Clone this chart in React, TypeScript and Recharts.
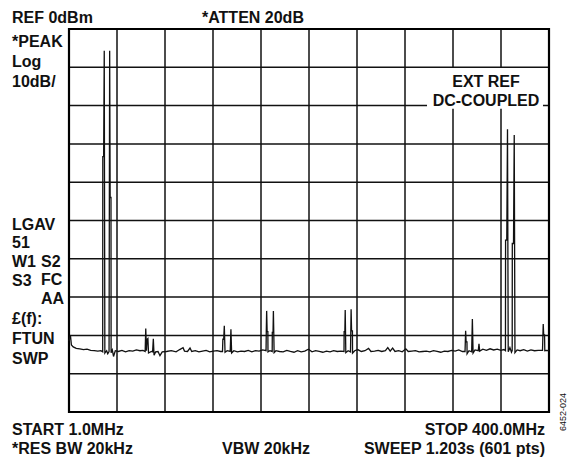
import React from "react";
import {
  LineChart,
  Line,
  XAxis,
  YAxis,
  CartesianGrid,
  ReferenceArea,
} from "recharts";

// sweep: [frequency MHz, level dBm]
const trace: [number, number][] = [
  [1.0, -81.5], [2.2, -80.0], [3.0, -82.5], [4.5, -83.0], [7, -83.4], [10, -83.5],
  [13, -83.7], [16, -83.6], [19, -83.9], [22, -84.0], [25, -84.1], [27.5, -84.0],
  [29.0, -84.3], [29.1, -33.3], [29.8, -33.3], [30.3, -5.7], [30.8, -84.6], [32.3, -84.0],
  [33.2, -84.8], [34.3, -84.2], [34.8, -5.7], [35.2, -44.0], [35.9, -44.0], [36.0, -84.5],
  [37.0, -83.8], [38.0, -85.5], [39.5, -84.0], [42, -84.2], [45, -83.9], [48, -84.3],
  [51, -84.0], [54, -84.1], [57, -83.8], [60, -84.0], [62.5, -83.9], [64.3, -84.2],
  [64.8, -78.2], [65.4, -84.0], [65.9, -81.0], [66.6, -80.8], [67.1, -84.6], [69.5, -84.2],
  [70.5, -84.3], [71.1, -80.9], [71.7, -85.2], [73, -84.3], [75, -84.2], [76.6, -85.3],
  [78.5, -84.3], [82, -84.2], [86, -84.0], [90, -84.3], [93, -83.7], [95.8, -83.2],
  [97, -84.1], [99.5, -84.2], [101.6, -83.3], [103, -84.2], [106, -84.0], [109, -84.3],
  [112, -84.1], [115, -83.9], [118, -84.3], [121, -84.1], [124, -84.0], [127, -84.2],
  [128.6, -84.2], [128.9, -81.0], [129.6, -81.0], [130.1, -77.5], [130.7, -84.4], [132.5, -84.0],
  [135.0, -84.2], [135.6, -78.4], [136.2, -84.6], [138, -84.0], [141, -84.3], [144, -84.1],
  [147, -84.2], [150, -83.9], [153, -84.3], [156, -84.0], [159, -84.1], [162, -83.8],
  [164.8, -84.0], [165.0, -79.0], [165.3, -73.6], [165.7, -79.0], [166.3, -79.0], [166.4, -84.3],
  [168, -84.0], [169.9, -84.2], [170.0, -79.2], [170.6, -79.2], [170.9, -73.6], [171.5, -84.5],
  [173, -84.0], [176, -84.2], [179, -84.3], [182, -83.9], [185, -84.2], [188, -84.4],
  [191, -84.0], [194, -84.3], [197, -84.1], [200, -83.6], [203, -84.3], [206, -84.0],
  [209, -84.2], [212, -84.4], [215, -84.1], [218, -84.3], [221, -84.0], [224, -84.2],
  [227, -84.1], [229.6, -84.2], [229.7, -79.0], [230.3, -79.0], [230.6, -73.4], [231.1, -84.5],
  [233, -84.0], [235.0, -84.3], [235.5, -73.2], [235.9, -78.8], [236.6, -78.8], [236.7, -84.6],
  [238.5, -84.0], [241, -83.7], [244, -84.2], [247, -84.0], [250, -83.4], [252, -84.2],
  [255, -84.1], [258, -83.9], [261, -84.2], [264, -84.0], [266, -83.2], [268, -84.1],
  [270, -83.3], [272, -84.2], [275, -84.0], [278, -84.3], [281, -83.5], [283, -84.2],
  [286, -84.1], [289, -84.0], [292, -84.3], [295, -84.2], [298, -84.1], [301, -84.3],
  [304, -84.0], [307, -84.2], [310, -84.4], [313, -84.1], [316, -84.2], [319, -83.9],
  [322, -84.1], [325, -83.8], [328, -84.2], [330.2, -84.2], [330.7, -78.8], [331.1, -81.7],
  [331.8, -81.7], [331.9, -84.8], [333.5, -84.0], [335.7, -84.3], [336.3, -75.7], [336.9, -84.6],
  [338.5, -83.8], [341.2, -84.0], [341.8, -82.2], [342.4, -84.1], [345, -83.6], [348, -83.9],
  [351, -83.5], [354, -83.8], [357, -83.6], [360, -83.9], [362.5, -83.7], [363.8, -84.0],
  [363.9, -55.1], [364.9, -55.1], [365.5, -26.2], [366.1, -84.3], [367.5, -83.2], [368.8, -84.4],
  [369.4, -84.0], [369.5, -56.0], [370.5, -56.0], [371.1, -27.7], [371.7, -84.5], [373.5, -83.8],
  [376, -84.0], [379, -83.7], [382, -84.1], [385, -83.8], [388, -84.0], [391, -83.9],
  [394.6, -83.9], [395.2, -77.0], [395.6, -79.9], [396.3, -79.9], [396.5, -84.0], [398, -83.9],
  [400, -84.0],
];

const freqTicks = [1, 40.9, 80.8, 120.7, 160.6, 200.5, 240.4, 280.3, 320.2, 360.1, 400];
const levelTicks = [-100, -90, -80, -70, -60, -50, -40, -30, -20, -10, 0];

const headerLeft = ["*PEAK", "Log", "10dB/"];
const statusLeft = ["LGAV", "51", "W1", "S3"];
const statusRight = ["S2", "FC", "AA"];
const statusLower = ["£(f):", "FTUN", "SWP"];

const data = trace.map(([f, dbm]) => ({ f, dbm }));

const font = "'Liberation Sans', Arial, Helvetica, sans-serif";

export default function App() {
  return (
    <div style={{ position: "absolute", left: 0, top: 0, width: 573, height: 457, background: "#fff" }}>
      <LineChart
        width={573}
        height={457}
        data={data}
        margin={{ top: 29, right: 24, bottom: 45, left: 69 }}
      >
        <XAxis type="number" dataKey="f" domain={[1, 400]} ticks={freqTicks} hide />
        <YAxis type="number" domain={[-100, 0]} ticks={levelTicks} hide />
        <CartesianGrid stroke="#111" strokeWidth={1.5} />
        <ReferenceArea
          x1={298.6}
          x2={395}
          y1={-20.8}
          y2={-10.2}
          fill="#fff"
          fillOpacity={1}
          stroke="none"
        />
        <ReferenceArea
          x1={1}
          x2={400}
          y1={-100}
          y2={0}
          fill="none"
          stroke="#000"
          strokeWidth={2.2}
        />
        <Line
          type="linear"
          dataKey="dbm"
          stroke="#111"
          strokeWidth={1.3}
          dot={false}
          isAnimationActive={false}
        />
      </LineChart>
      <svg
        width={573}
        height={457}
        style={{ position: "absolute", left: 0, top: 0, pointerEvents: "none" }}
        fontFamily={font}
        fontWeight="bold"
        fontSize={16}
        fill="#111"
      >
        <text x={12} y={23}>REF 0dBm</text>
        <text x={202} y={23}>*ATTEN 20dB</text>
        {headerLeft.map((t, i) => (
          <text key={t} x={12} y={46.5 + i * 20}>{t}</text>
        ))}
        {statusLeft.map((t, i) => (
          <text key={t} x={12} y={229.5 + i * 18.8}>{t}</text>
        ))}
        {statusRight.map((t, i) => (
          <text key={t} x={41} y={266.7 + i * 18.7}>{t}</text>
        ))}
        {statusLower.map((t, i) => (
          <text key={t} x={12} y={324 + i * 20}>{t}</text>
        ))}
        <text x={486} y={87.3} textAnchor="middle">EXT REF</text>
        <text x={486} y={106} textAnchor="middle">DC-COUPLED</text>
        <text x={12} y={435}>START 1.0MHz</text>
        <text x={12} y={454}>*RES BW 20kHz</text>
        <text x={222} y={454}>VBW 20kHz</text>
        <text x={545} y={435} textAnchor="end">STOP 400.0MHz</text>
        <text x={545} y={454} textAnchor="end">SWEEP 1.203s (601 pts)</text>
        <text
          x={0}
          y={0}
          fontWeight="normal"
          fontSize={9}
          textAnchor="middle"
          transform="translate(566 412) rotate(-90)"
        >
          6452-024
        </text>
      </svg>
    </div>
  );
}
